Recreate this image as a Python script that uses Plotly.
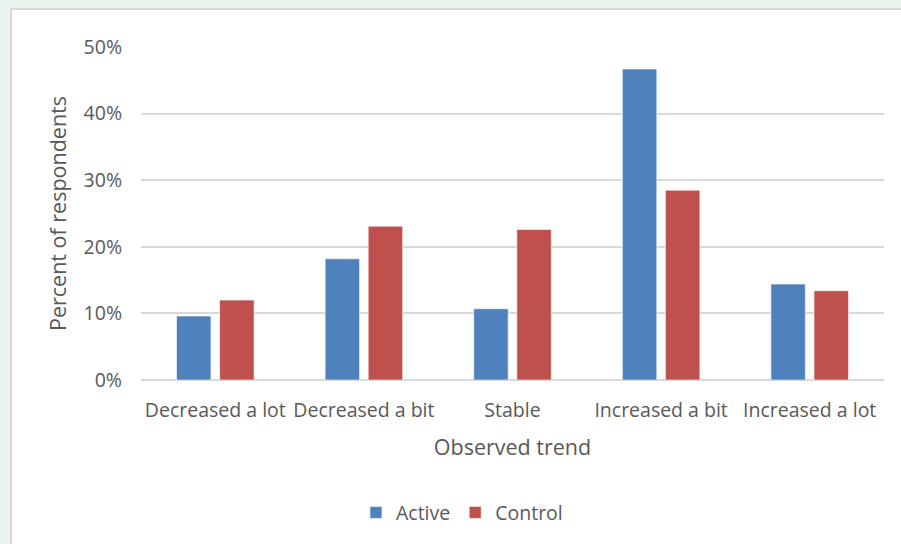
import plotly.graph_objects as go

categories = ["Decreased a lot", "Decreased a bit", "Stable", "Increased a bit", "Increased a lot"]
active = [0.096, 0.182, 0.107, 0.467, 0.144]
control = [0.120, 0.231, 0.226, 0.285, 0.134]
y_ticks = [0, 0.1, 0.2, 0.3, 0.4, 0.5]
y_tick_labels = ["0%", "10%", "20%", "30%", "40%", "50%"]

FONT = "Open Sans, Carlito, Calibri, sans-serif"
GREY = "#595959"

fig = go.Figure()
fig.add_trace(go.Bar(name="Active", x=categories, y=active, marker_color="#4F81BD",
                     marker_line=dict(color="#FFFFFF", width=0.6)))
fig.add_trace(go.Bar(name="Control", x=categories, y=control, marker_color="#C0504D",
                     marker_line=dict(color="#FFFFFF", width=0.6)))

W, H = 901, 544
L, R, T, B = 141, 17, 47, 164
pw, ph = W - L - R, H - T - B

fig.update_layout(
    width=W, height=H,
    margin=dict(l=L, r=R, t=T, b=B, pad=0),
    paper_bgcolor="#EAF4EC",
    plot_bgcolor="rgba(0,0,0,0)",
    barmode="group", bargap=0.42, bargroupgap=0.2,
    font=dict(family=FONT, size=19.5, color=GREY),
    showlegend=True,
    legend=dict(orientation="h", x=0.432, xanchor="center", y=-0.34, yanchor="top",
                font=dict(family=FONT, size=19.5, color=GREY), itemwidth=30,
                traceorder="normal", bgcolor="rgba(0,0,0,0)"),
    xaxis=dict(title=dict(text="Observed trend", font=dict(size=21.5, color=GREY), standoff=18),
               showgrid=False, showline=False, ticks="", zeroline=False,
               tickfont=dict(size=19.5, color=GREY), ticklabelstandoff=16),
    yaxis=dict(title=dict(text="Percent of respondents", font=dict(size=21.5, color=GREY), standoff=11),
               range=[0, 0.5], tickvals=y_ticks, ticktext=y_tick_labels,
               showgrid=True, gridcolor="#D9D9D9", gridwidth=1.5,
               zeroline=True, zerolinecolor="#D9D9D9", zerolinewidth=1.5,
               showline=False, ticks="", tickfont=dict(size=19.5, color=GREY),
               ticklabelstandoff=18),
)

# white chart area with thin grey border (green frame visible at top/left)
fig.add_shape(type="rect", xref="paper", yref="paper",
              x0=(11 - L) / pw, x1=(W + 20 - L) / pw,
              y0=-(B + 20) / ph, y1=(H - B - 9) / ph,
              fillcolor="#FFFFFF", line=dict(color="#D9D9D9", width=2), layer="below")

fig.write_html("out.html", config={"displayModeBar": False},
               post_script="document.body.style.margin='0';document.body.style.overflow='hidden';")
